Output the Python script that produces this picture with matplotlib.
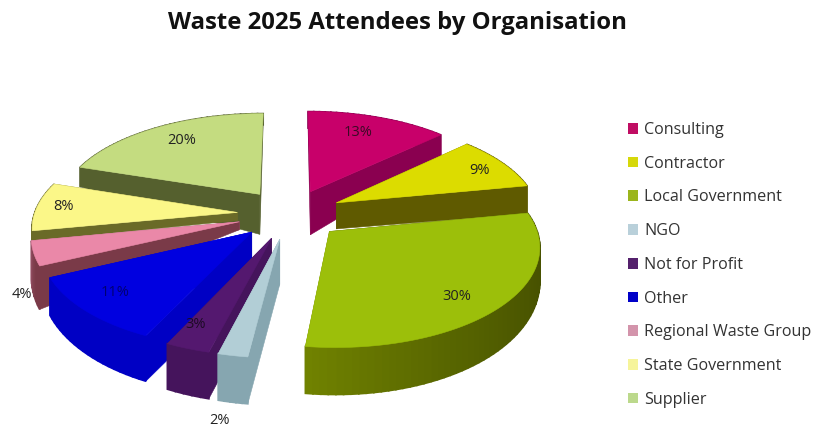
import numpy as np
import matplotlib
matplotlib.use("Agg")
import matplotlib.pyplot as plt
from matplotlib.patches import Polygon, Patch
from matplotlib.colors import to_rgb

# --- data -------------------------------------------------------------
categories = ["Consulting", "Contractor", "Local Government", "NGO", "Not for Profit",
              "Other", "Regional Waste Group", "State Government", "Supplier"]
shares = [13, 9, 30, 2, 3, 11, 4, 8, 20]
title = "Waste 2025 Attendees by Organisation"

# --- styles -----------------------------------------------------------
top_colors = ["#c8006a", "#dcdc00", "#9cbf0a", "#b2ced6", "#54186f",
              "#0000e0", "#ea88a8", "#fbf788", "#c4dc80"]
side_start = ["#8a0050", "#5f5a00", "#454f00", "#86a6b0", "#45145c",
              "#0000c4", "#7a3a48", "#6a6a28", "#55602e"]
side_end = ["#8a0050", "#5f5a00", "#708200", "#86a6b0", "#45145c",
            "#0000c4", "#a05a70", "#6a6a28", "#55602e"]
legend_colors = ["#c00d63", "#d6d80a", "#9bb51c", "#b9d0da", "#54206c",
                 "#0000c8", "#d394ab", "#f6f49a", "#bcd98c"]
apex_depth = [43, 26, 40, 45, 43, 45, 8, 8, 40]
rim_factor = [1.1, 1.0, 1.0, 1.0, 1.0, 1.0, 1.15, 0.3, 0.75]
label_xy = [(358, 132), (479, 170), (457, 296), (219, 421), (196, 324),
            (115, 292), (22, 295), (64, 207), (182, 140)]
label_colors = ["#3a0a25", "#222222", "#222222", "#222222", "#1c0a24",
                "#000070", "#222222", "#222222", "#222222"]

CX, CY = 290, 214
RX, RY = 203, 96
PERSP = 0.13
EXPLODE = 0.26

plt.rcParams["font.family"] = ["Open Sans", "DejaVu Sans"]
fig = plt.figure(figsize=(8.4, 4.32), dpi=100)
ax = fig.add_axes([0, 0, 1, 1])
ax.set_xlim(0, 840)
ax.set_ylim(432, 0)
ax.axis("off")


def project(X, Y, drop=0.0):
    s = 1.0 / (1.0 + PERSP * Y)
    return CX + RX * X * s, CY - RY * Y * s + drop


def rim_depth(Y, factor):
    return (31 - 16 * Y) * factor


def face(points, color, z, lw=0.4):
    ax.add_patch(Polygon(points, closed=True, facecolor=color, edgecolor=color,
                         linewidth=lw, zorder=z))


total = sum(shares)
edges = np.concatenate([[0], np.cumsum(shares)]) / total * 2 * np.pi
order = sorted(range(len(shares)), key=lambda i: -np.cos((edges[i] + edges[i + 1]) / 2))

for rank, i in enumerate(order):
    a0, a1 = edges[i], edges[i + 1]
    mid = (a0 + a1) / 2
    ox, oy = EXPLODE * np.sin(mid), EXPLODE * np.cos(mid)
    th = np.linspace(a0, a1, max(6, int(shares[i] * 2)))
    X = ox + np.sin(th)
    Y = oy + np.cos(th)
    base_z = 10 + rank * 10
    top = [project(ox, oy)] + [project(x, y) for x, y in zip(X, Y)]
    apex_low = project(ox, oy, apex_depth[i])

    faces = []
    c0, c1 = np.array(to_rgb(side_start[i])), np.array(to_rgb(side_end[i]))
    # radial cut faces
    for x, y, col in ((X[0], Y[0], c0), (X[-1], Y[-1], c1)):
        d = rim_depth(np.cos(np.arctan2(x - ox, y - oy)), rim_factor[i])
        poly = [project(ox, oy), project(x, y), project(x, y, d), apex_low]
        faces.append(((oy + y) / 2, poly, tuple(col), 0.4))
    # outer rim
    for k in range(len(th) - 1):
        d0 = rim_depth(np.cos(th[k]), rim_factor[i])
        d1 = rim_depth(np.cos(th[k + 1]), rim_factor[i])
        t = (k / max(1, len(th) - 2)) ** 2
        col = tuple(c0 * (1 - t) + c1 * t)
        poly = [project(X[k], Y[k]), project(X[k + 1], Y[k + 1]),
                project(X[k + 1], Y[k + 1], d1), project(X[k], Y[k], d0)]
        faces.append(((Y[k] + Y[k + 1]) / 2, poly, col, 1.2))
    faces.sort(key=lambda f: -f[0])
    for j, (_, poly, col, lw) in enumerate(faces):
        face(poly, col, base_z + j * 0.01, lw)
    face(top, top_colors[i], base_z + 5)

for share, (lx, ly), col in zip(shares, label_xy, label_colors):
    ax.text(lx, ly, f"{share}%", ha="center", va="center", fontsize=10.5,
            color=col, zorder=200)

ax.text(397, 23, title, ha="center", va="center", fontsize=17.2,
        fontweight="bold", color="#111111", zorder=200)

handles = [Patch(facecolor=c, edgecolor="none", label=n)
           for n, c in zip(categories, legend_colors)]
leg = ax.legend(handles=handles, loc="upper left", bbox_to_anchor=(628 / 840, 1 - 122 / 432),
                frameon=False, fontsize=11.6, labelspacing=1.10, handlelength=0.65,
                handleheight=0.65, handletextpad=0.34, borderaxespad=0, borderpad=0)
for t in leg.get_texts():
    t.set_color("#333333")
leg.set_zorder(200)

fig.savefig("out.png", dpi=100, facecolor="white")
